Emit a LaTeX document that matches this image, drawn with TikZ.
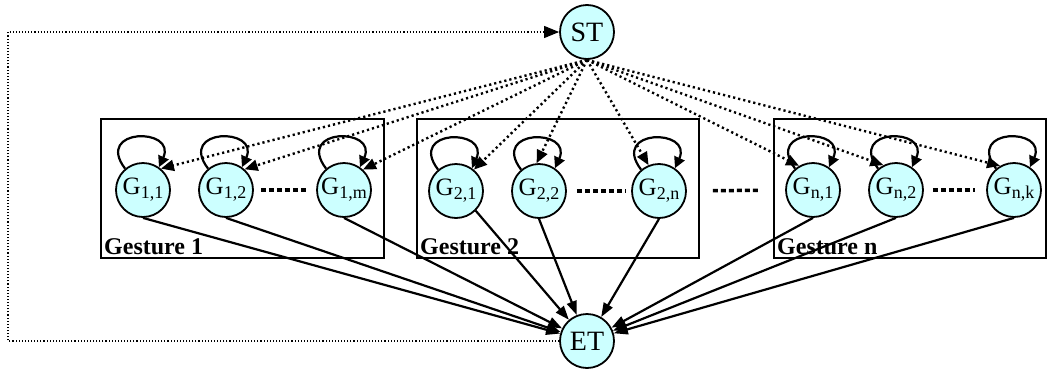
\documentclass[tikz,border=0pt]{standalone}
\usepackage{fontspec}
\setmainfont{Liberation Serif}
\usetikzlibrary{arrows.meta}
\definecolor{nodefill}{RGB}{204,255,255}
\newcommand\gsub[1]{\raisebox{-4pt}{\fontsize{18}{18}\selectfont #1}}
\begin{document}
\begin{tikzpicture}[x=1pt,y=-1pt,
  state/.style={circle, draw, line width=1.8pt, fill=nodefill, minimum size=54pt, inner sep=0pt, font=\fontsize{25}{25}\selectfont},
  term/.style={state, font=\fontsize{28}{28}\selectfont},
  gbox/.style={draw, line width=1.8pt},
  glabel/.style={anchor=base west, inner sep=0pt, font=\fontsize{24}{24}\selectfont\bfseries},
  looparc/.style={draw, line width=2.2pt, -{Triangle[length=11pt,width=11pt]}},
  stline/.style={draw, line width=2.4pt, dash pattern=on 2.2pt off 3pt, -{Triangle[length=13pt,width=11pt]}},
  etline/.style={draw, line width=2.2pt, -{Triangle[length=14pt,width=10pt]}},
  outer/.style={draw, line width=1.1pt, dash pattern=on 1.1pt off 2pt, -{Triangle[length=15pt,width=12pt]}},
  gap/.style={draw, line width=3.5pt, dash pattern=on 5pt off 3pt}
]
\useasboundingbox (0,0) rectangle (1049,370);

% boxes
\draw[gbox] (101,119) rectangle (384,258);
\draw[gbox] (417,119) rectangle (699,258);
\draw[gbox] (774,119) rectangle (1046,258);
\node[glabel] (lab1) at (104,254) {Gesture 1};
\node[glabel] (lab2) at (420,254) {Gesture 2};
\node[glabel] (labn) at (777,254) {Gesture n};

% nodes
\node[term] (st) at (587,32) {ST};
\node[term] (et) at (587,341) {ET};
\node[state] (g11) at (143,190) {G\gsub{1,1}};
\node[state] (g12) at (226,190) {G\gsub{1,2}};
\node[state] (g1m) at (344,190) {G\gsub{1,m}};
\node[state] (g21) at (456,191) {G\gsub{2,1}};
\node[state] (g22) at (539,191) {G\gsub{2,2}};
\node[state] (g2n) at (659,191) {G\gsub{2,n}};
\node[state] (gn1) at (813,190) {G\gsub{n,1}};
\node[state] (gn2) at (896,190) {G\gsub{n,2}};
\node[state] (gnk) at (1014,190) {G\gsub{n,k}};

% gaps between states
\draw[gap, shorten <=7pt, shorten >=9pt] (g12.east) -- (g1m.west);
\draw[gap, shorten <=10pt, shorten >=5pt] (g22.east) -- (g2n.west);
\draw[gap, shorten <=26pt, shorten >=25pt] (g2n.east) -- (gn1.west);
\draw[gap, shorten <=9pt, shorten >=11pt] (gn2.east) -- (gnk.west);

% self loops
\foreach \g in {g11,g12,g1m,g21,g22,g2n,gn1,gn2,gnk}{
  \draw[looparc] (\g.130) .. controls +(-31,-41) and +(18,-40) .. (\g.55);
}

% ST to states
\draw[stline] (st.south) -- (g11.50);
\draw[stline] (st.south) -- (g12.48);
\draw[stline] (st.south) -- (g1m.47);
\draw[stline] (st.south) -- (g21.50);
\draw[stline] (st.south) -- (g22.95);
\draw[stline] (st.south) -- (g2n.112);
\draw[stline] (st.south) -- (gn1.120);
\draw[stline] (st.south) -- (gn2.117);
\draw[stline] (st.south) -- (gnk.120);

% states to ET
\draw[etline] (g11.south) -- (et);
\draw[etline] (g12.south) -- (et);
\draw[etline] (g1m.south) -- (et);
\draw[etline] (g21.south east) -- (et);
\draw[etline] (g22.south) -- (et);
\draw[etline] (g2n.south) -- (et);
\draw[etline] (gn1.south) -- (et);
\draw[etline] (gn2.south) -- (et);
\draw[etline] (gnk.south) -- (et);

% outer return path
\coordinate (cbl) at (8,341);
\coordinate (ctl) at (8,32);
\draw[outer] (et.west) -- (cbl) -- (ctl) -- (st.west);
\end{tikzpicture}
\end{document}
